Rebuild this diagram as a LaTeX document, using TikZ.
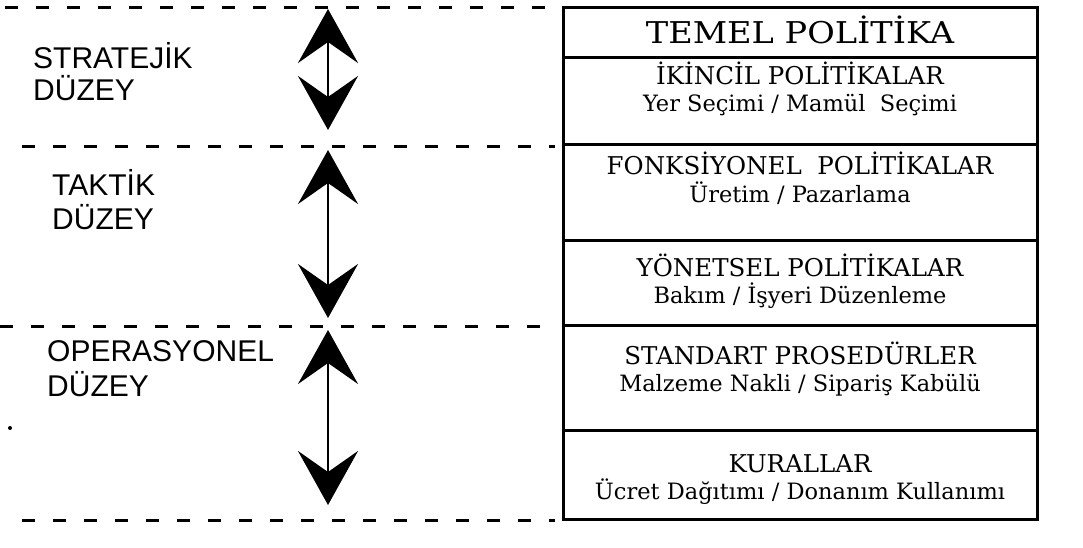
\documentclass[tikz,border=0pt]{standalone}
\usepackage{fontspec}
\usepackage{graphicx}
\setmainfont{DejaVu Serif}
\newfontfamily\labelfont{Liberation Sans}
\usetikzlibrary{arrows.meta}
\begin{document}
\begin{tikzpicture}[x=1pt,y=-1pt,
  levelline/.style={line width=3pt, dash pattern=on 13pt off 18pt},
  rowbox/.style={draw, line width=3pt, minimum width=474pt, inner sep=0pt, outer sep=0pt},
  biarrow/.style={line width=2.5pt, {Stealth[length=54pt,width=60pt,inset=21pt]}-{Stealth[length=54pt,width=60pt,inset=21pt]}},
  lvl/.style={font=\labelfont\fontsize{30}{34}\selectfont, anchor=base west, inner sep=0pt},
  head/.style={font=\fontsize{24.5}{28}\selectfont, anchor=base, inner sep=0pt},
  headbig/.style={font=\fontsize{30}{34}\selectfont, anchor=base, inner sep=0pt},
  sub/.style={font=\fontsize{22.5}{26}\selectfont, anchor=base, inner sep=0pt}]
\fill[white] (0,0) rectangle (1083,548);
\useasboundingbox (0,0) rectangle (1083,548);

% level separators
\coordinate (d1a) at (5,8);   \coordinate (d1b) at (555,8);
\coordinate (d2a) at (22,147); \coordinate (d2b) at (555,147);
\coordinate (d3a) at (0,326);  \coordinate (d3b) at (555,326);
\coordinate (d4a) at (22,520); \coordinate (d4b) at (555,520);
\draw[levelline] (d1a) -- (d1b);
\draw[levelline] (d2a) -- (d2b);
\draw[levelline] (d3a) -- (d3b);
\draw[levelline] (d4a) -- (d4b);

% rows of the policy box (x 563..1037)
\node[rowbox, minimum height=50pt]  (r1) at (800,33) {};
\node[rowbox, minimum height=87pt]  (r2) at (800,101.5) {};
\node[rowbox, minimum height=95pt]  (r3) at (800,192.5) {};
\node[rowbox, minimum height=85pt]  (r4) at (800,282.5) {};
\node[rowbox, minimum height=105pt] (r5) at (800,377.5) {};
\node[rowbox, minimum height=89pt]  (r6) at (800,474.5) {};

\node[headbig] (t1) at (800,44) {\scalebox{1.12}[1]{TEMEL POLİTİKA}};
\node[head] (t2a) at (800,85) {İKİNCİL POLİTİKALAR};
\node[sub]  (t2b) at (800,112) {Yer Seçimi / Mamül\ \ Seçimi};
\node[head] (t3a) at (800,175) {FONKSİYONEL\ \ POLİTİKALAR};
\node[sub]  (t3b) at (800,202) {Üretim / Pazarlama};
\node[head] (t4a) at (800,276) {YÖNETSEL POLİTİKALAR};
\node[sub]  (t4b) at (800,303) {Bakım / İşyeri Düzenleme};
\node[head] (t5a) at (800,364) {STANDART PROSEDÜRLER};
\node[sub]  (t5b) at (800,391) {Malzeme Nakli / Sipariş Kabülü};
\node[head] (t6a) at (800,472) {KURALLAR};
\node[sub]  (t6b) at (800,499) {Ücret Dağıtımı / Donanım Kullanımı};

% level labels
\node[lvl] (s1) at (33,69) {STRATEJİK};
\node[lvl] (s2) at (33,101) {DÜZEY};
\node[lvl] (k1) at (52,196) {TAKTİK};
\node[lvl] (k2) at (52,229) {DÜZEY};
\node[lvl] (o1) at (47,361) {OPERASYONEL};
\node[lvl] (o2) at (47,396) {DÜZEY};

% double arrows
\coordinate (a1t) at (328,9);   \coordinate (a1b) at (328,130);
\coordinate (a2t) at (328,150); \coordinate (a2b) at (328,318);
\coordinate (a3t) at (328,330); \coordinate (a3b) at (328,505);
\draw[biarrow] (a1t) -- (a1b);
\draw[biarrow] (a2t) -- (a2b);
\draw[biarrow] (a3t) -- (a3b);

% stray dot
\fill (10,428) circle (2pt);
\end{tikzpicture}
\end{document}
